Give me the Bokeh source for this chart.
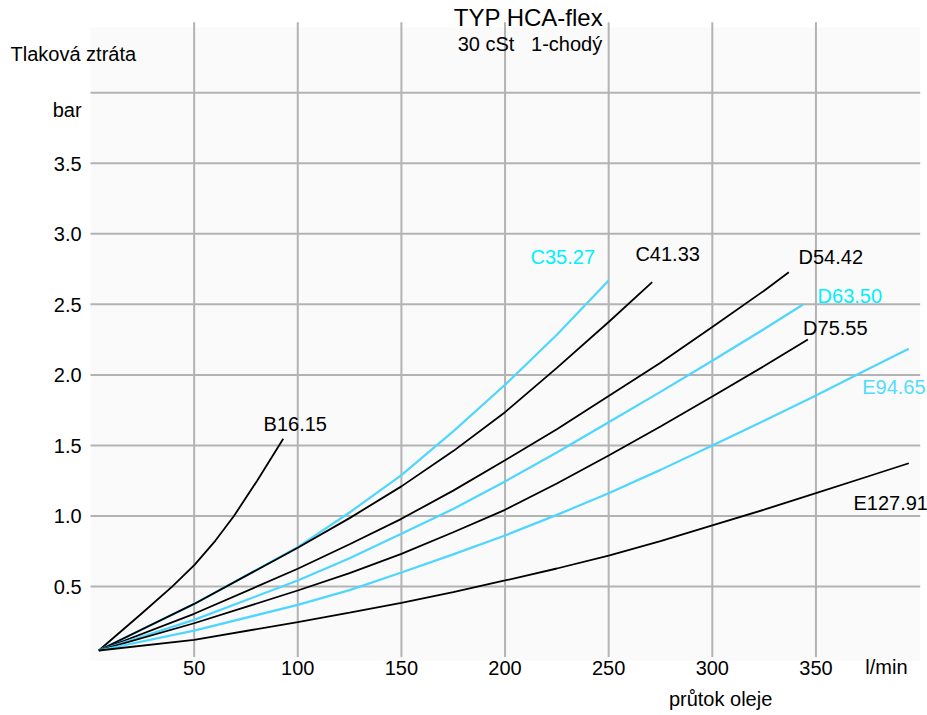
from bokeh.plotting import figure
from bokeh.models import Label, BoxAnnotation, Range1d
from bokeh.core.properties import value
from bokeh.embed import file_html
from bokeh.resources import INLINE

FONT = "Liberation Sans"

# axis ticks / grid
x_ticks = [50, 100, 150, 200, 250, 300, 350]
x_tick_labels = ["50", "100", "150", "200", "250", "300", "350"]
y_ticks = [0.5, 1.0, 1.5, 2.0, 2.5, 3.0, 3.5]
y_tick_labels = ["0.5", "1.0", "1.5", "2.0", "2.5", "3.0", "3.5"]
y_grid = [0.5, 1.0, 1.5, 2.0, 2.5, 3.0, 3.5, 4.0]

title_text = "TYP HCA-flex"
subtitle_text = "30 cSt\u00a0\u00a0\u00a01-chodý"
y_title = "Tlaková ztráta"
y_unit = "bar"
x_title = "průtok oleje"
x_unit = "l/min"

# curves: flow (l/min) -> pressure drop (bar)
b16_x = [4, 24, 39.4, 50.3, 60.3, 69.2, 80.4, 93]
b16_y = [0.047, 0.30, 0.50, 0.656, 0.826, 1.0, 1.25, 1.547]

c35_x = [4, 50, 100, 125, 150, 175, 200, 225, 250]
c35_y = [0.047, 0.377, 0.779, 1.025, 1.29, 1.60, 1.93, 2.285, 2.669]

c41_x = [4, 50, 100, 125, 150, 175, 200, 225, 250, 271]
c41_y = [0.047, 0.377, 0.775, 0.985, 1.21, 1.46, 1.736, 2.05, 2.375, 2.657]

d54_x = [4, 50, 100, 125, 150, 175, 200, 225, 250, 275, 300, 325, 336.9]
d54_y = [0.047, 0.307, 0.626, 0.80, 0.98, 1.18, 1.395, 1.615, 1.85, 2.087, 2.34, 2.597, 2.728]

d63_x = [4, 50, 100, 125, 150, 175, 200, 225, 250, 275, 300, 325, 343.8]
d63_y = [0.047, 0.264, 0.543, 0.70, 0.874, 1.05, 1.245, 1.45, 1.665, 1.88, 2.10, 2.325, 2.499]

d75_x = [4, 50, 100, 125, 150, 175, 200, 225, 250, 275, 300, 325, 346.1]
d75_y = [0.047, 0.240, 0.472, 0.595, 0.732, 0.885, 1.044, 1.23, 1.429, 1.635, 1.847, 2.063, 2.251]

e94_x = [4, 50, 100, 125, 150, 175, 200, 225, 250, 275, 300, 325, 350, 375, 394.8]
e94_y = [0.047, 0.188, 0.37, 0.475, 0.60, 0.728, 0.862, 1.008, 1.162, 1.327, 1.5, 1.675, 1.854, 2.04, 2.185]

e127_x = [4, 50, 100, 125, 150, 175, 200, 225, 250, 275, 300, 325, 350, 375, 394.8]
e127_y = [0.047, 0.122, 0.248, 0.315, 0.385, 0.46, 0.543, 0.628, 0.720, 0.822, 0.933, 1.045, 1.162, 1.28, 1.374]

BLACK = "#000000"
CYAN_LINE = "#4fd6ff"
CYAN_TEXT = "#00f0ff"
CYAN_TEXT2 = "#52dcff"

curves = [
    ("B16.15", b16_x, b16_y, BLACK, BLACK, 83.5, 1.649),
    ("C35.27", c35_x, c35_y, CYAN_LINE, CYAN_TEXT, 212.3, 2.833),
    ("C41.33", c41_x, c41_y, BLACK, BLACK, 262.9, 2.854),
    ("D54.42", d54_x, d54_y, BLACK, BLACK, 341.6, 2.833),
    ("D63.50", d63_x, d63_y, CYAN_LINE, CYAN_TEXT, 350.8, 2.561),
    ("D75.55", d75_x, d75_y, BLACK, BLACK, 343.8, 2.336),
    ("E94.65", e94_x, e94_y, CYAN_LINE, CYAN_TEXT2, 372.3, 1.914),
    ("E127.91", e127_x, e127_y, BLACK, BLACK, 368.1, 1.089),
]

# whole canvas is the plotting frame: 2.0727 px per l/min, 141.1 px per bar
p = figure(width=927, height=715,
           x_range=Range1d(-43.42, 403.82), y_range=Range1d(-0.4138, 4.6535),
           output_backend="svg", toolbar_location=None,
           x_axis_location=None, y_axis_location=None,
           min_border=0, min_border_left=0, min_border_right=0,
           min_border_top=0, min_border_bottom=0)
p.background_fill_color = "white"
p.border_fill_color = "white"
p.outline_line_color = None
p.xgrid.visible = False
p.ygrid.visible = False

# light grey plotting area
p.add_layout(BoxAnnotation(left=0, right=400.3, bottom=-0.024, top=4.462,
                           fill_color="#fafafa", fill_alpha=1.0, line_color=None,
                           level="underlay"))

GRID = "#b3b3b3"
p.segment(x0=x_ticks, y0=[0] * len(x_ticks), x1=x_ticks, y1=[4.5] * len(x_ticks),
          line_color=GRID, line_width=2)
p.segment(x0=[0] * len(y_grid), y0=y_grid, x1=[400.3] * len(y_grid), y1=y_grid,
          line_color=GRID, line_width=2)

for name, xs, ys, lc, tc, lx, ly in curves:
    p.line(xs, ys, line_color=lc, line_width=2.2 if lc != BLACK else 1.8)
    p.add_layout(Label(x=lx, y=ly, text=name, text_font=FONT, text_font_size="20px",
                       text_color=tc, text_align="left", text_baseline="alphabetic"))

# tick labels
p.text(x=x_ticks, y=[0] * len(x_ticks), text=x_tick_labels, y_offset=10.4,
       text_font=value(FONT), text_font_size="20px", text_color="black",
       text_align="center", text_baseline="alphabetic")
p.text(x=[-4.3] * len(y_ticks), y=y_ticks, text=y_tick_labels, y_offset=0.3,
       text_font=value(FONT), text_font_size="20px", text_color="black",
       text_align="right", text_baseline="alphabetic")


def add_text(x, y, t, size="20px", align="left"):
    p.add_layout(Label(x=x, y=y, text=t, text_font=FONT, text_font_size=size,
                       text_align=align, text_baseline="alphabetic", text_color="black"))


add_text(211.3, 4.532, title_text, size="24px", align="center")
add_text(212.0, 4.342, subtitle_text, align="center")
add_text(-38.6, 4.271, y_title)
add_text(-4.3, 3.874, y_unit, align="right")
add_text(384.0, -0.073, x_unit, align="center")
add_text(304.0, -0.300, x_title, align="center")

open("out.html", "w").write(file_html(p, INLINE))
